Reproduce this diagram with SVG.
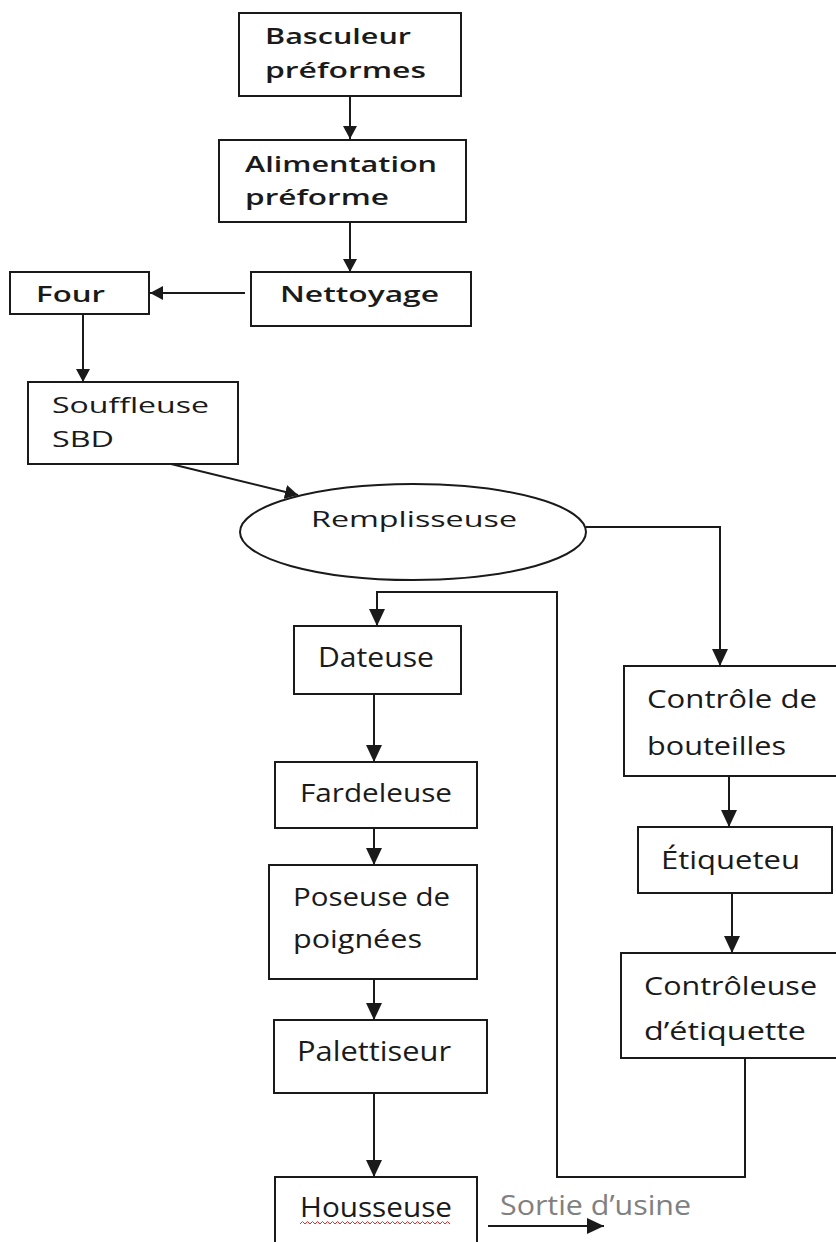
<svg xmlns="http://www.w3.org/2000/svg" width="836" height="1242" viewBox="0 0 836 1242">
<style>
.box{fill:#fff;stroke:#1a1a1a;stroke-width:2}
.t{font-family:"Open Sans","Liberation Sans",sans-serif;fill:#1a1a1a}
.b{font-weight:600}
.c{fill:none;stroke:#1a1a1a;stroke-width:2}
</style>
<defs>
<marker id="ah" markerUnits="userSpaceOnUse" markerWidth="14" markerHeight="16" refX="13" refY="8" orient="auto">
<path d="M0,1 L13,8 L0,15 Z" fill="#1a1a1a"/>
</marker>
<marker id="ahl" markerUnits="userSpaceOnUse" markerWidth="18" markerHeight="18" refX="17" refY="9" orient="auto">
<path d="M0,1 L17,9 L0,17 Z" fill="#1a1a1a"/>
</marker>
</defs>
<rect width="836" height="1242" fill="#fff"/>
<g id="connectors">
<path class="c" d="M350,96 V139" marker-end="url(#ah)"/>
<path class="c" d="M350,222 V272" marker-end="url(#ah)"/>
<path class="c" d="M245,293 H150" marker-end="url(#ah)"/>
<path class="c" d="M83,314 V382" marker-end="url(#ah)"/>
<path class="c" d="M171,464 L298,495" marker-end="url(#ah)"/>
<path class="c" d="M586,527 H720 V666" marker-end="url(#ahl)"/>
<path class="c" d="M745,1058 V1177 H557 V592 H377 V626" marker-end="url(#ahl)"/>
<path class="c" d="M374,694 V762" marker-end="url(#ahl)"/>
<path class="c" d="M374,828 V865" marker-end="url(#ahl)"/>
<path class="c" d="M729,776 V827" marker-end="url(#ahl)"/>
<path class="c" d="M732,893 V953" marker-end="url(#ahl)"/>
<path class="c" d="M374,979 V1020" marker-end="url(#ahl)"/>
<path class="c" d="M374,1093 V1177" marker-end="url(#ahl)"/>
<path class="c" d="M488,1226 H604" marker-end="url(#ahl)"/>
</g>
<g id="basculeur">
<rect class="box" x="239" y="13" width="222" height="83"/>
<text class="t b" x="265" y="44" font-size="21" textLength="146" lengthAdjust="spacingAndGlyphs">Basculeur</text>
<text class="t b" x="265" y="78" font-size="21" textLength="161" lengthAdjust="spacingAndGlyphs">préformes</text>
</g>
<g id="alimentation">
<rect class="box" x="219" y="140" width="247" height="82"/>
<text class="t b" x="245" y="172" font-size="21" textLength="192" lengthAdjust="spacingAndGlyphs">Alimentation</text>
<text class="t b" x="245" y="205" font-size="21" textLength="144" lengthAdjust="spacingAndGlyphs">préforme</text>
</g>
<g id="nettoyage">
<rect class="box" x="251" y="272" width="220" height="54"/>
<text class="t b" x="280" y="302" font-size="21" textLength="159" lengthAdjust="spacingAndGlyphs">Nettoyage</text>
</g>
<g id="four">
<rect class="box" x="10" y="272" width="139" height="42"/>
<text class="t b" x="36" y="302" font-size="21" textLength="69" lengthAdjust="spacingAndGlyphs">Four</text>
</g>
<g id="souffleuse">
<rect class="box" x="28" y="382" width="210" height="82"/>
<text class="t" x="52" y="413" font-size="22" textLength="157" lengthAdjust="spacingAndGlyphs">Souffleuse</text>
<text class="t" x="52" y="447" font-size="22" textLength="62" lengthAdjust="spacingAndGlyphs">SBD</text>
</g>
<g id="remplisseuse">
<ellipse class="box" cx="413" cy="532" rx="173" ry="48"/>
<text class="t" x="311" y="527" font-size="21" textLength="206" lengthAdjust="spacingAndGlyphs">Remplisseuse</text>
</g>
<g id="dateuse">
<rect class="box" x="294" y="626" width="167" height="68"/>
<text class="t" x="318" y="667" font-size="27" textLength="116" lengthAdjust="spacingAndGlyphs">Dateuse</text>
</g>
<g id="fardeleuse">
<rect class="box" x="275" y="762" width="202" height="66"/>
<text class="t" x="300" y="802" font-size="25" textLength="152" lengthAdjust="spacingAndGlyphs">Fardeleuse</text>
</g>
<g id="poseuse">
<rect class="box" x="269" y="865" width="208" height="114"/>
<text class="t" x="293" y="906" font-size="25" textLength="157" lengthAdjust="spacingAndGlyphs">Poseuse de</text>
<text class="t" x="293" y="948" font-size="25" textLength="129" lengthAdjust="spacingAndGlyphs">poignées</text>
</g>
<g id="palettiseur">
<rect class="box" x="274" y="1020" width="213" height="73"/>
<text class="t" x="297" y="1061" font-size="28" textLength="154" lengthAdjust="spacingAndGlyphs">Palettiseur</text>
</g>
<g id="housseuse">
<rect class="box" x="275" y="1177" width="202" height="80"/>
<text class="t" x="300" y="1217" font-size="27" textLength="152" lengthAdjust="spacingAndGlyphs">Housseuse</text>
<path d="M300,1224 l2.5,-2.5 l2.5,2.5 l2.5,-2.5 l2.5,2.5 l2.5,-2.5 l2.5,2.5 l2.5,-2.5 l2.5,2.5 l2.5,-2.5 l2.5,2.5 l2.5,-2.5 l2.5,2.5 l2.5,-2.5 l2.5,2.5 l2.5,-2.5 l2.5,2.5 l2.5,-2.5 l2.5,2.5 l2.5,-2.5 l2.5,2.5 l2.5,-2.5 l2.5,2.5 l2.5,-2.5 l2.5,2.5 l2.5,-2.5 l2.5,2.5 l2.5,-2.5 l2.5,2.5 l2.5,-2.5 l2.5,2.5 l2.5,-2.5 l2.5,2.5 l2.5,-2.5 l2.5,2.5 l2.5,-2.5 l2.5,2.5 l2.5,-2.5 l2.5,2.5 l2.5,-2.5 l2.5,2.5 l2.5,-2.5 l2.5,2.5 l2.5,-2.5 l2.5,2.5 l2.5,-2.5 l2.5,2.5 l2.5,-2.5 l2.5,2.5 l2.5,-2.5 l2.5,2.5 l2.5,-2.5 l2.5,2.5 l2.5,-2.5 l2.5,2.5 l2.5,-2.5 l2.5,2.5 l2.5,-2.5 l2.5,2.5 l2.5,-2.5 l2.5,2.5" fill="none" stroke="#e03030" stroke-width="1"/>
</g>
<g id="sortie">
<text x="500" y="1215" font-family="'Open Sans','Liberation Sans',sans-serif" font-size="27" fill="#808080" textLength="191" lengthAdjust="spacingAndGlyphs">Sortie d’usine</text>
</g>
<g id="controle-bouteilles">
<rect class="box" x="624" y="666" width="220" height="110"/>
<text class="t" x="647" y="708" font-size="25" textLength="170" lengthAdjust="spacingAndGlyphs">Contrôle  de</text>
<text class="t" x="647" y="755" font-size="25" textLength="139" lengthAdjust="spacingAndGlyphs">bouteilles</text>
</g>
<g id="etiqueteu">
<rect class="box" x="638" y="827" width="194" height="66"/>
<text class="t" x="661" y="869" font-size="25" textLength="139" lengthAdjust="spacingAndGlyphs">Étiqueteu</text>
</g>
<g id="controleuse">
<rect class="box" x="621" y="953" width="223" height="105"/>
<text class="t" x="644" y="995" font-size="25" textLength="173" lengthAdjust="spacingAndGlyphs">Contrôleuse</text>
<text class="t" x="644" y="1040" font-size="25" textLength="162" lengthAdjust="spacingAndGlyphs">d’étiquette</text>
</g>
</svg>
